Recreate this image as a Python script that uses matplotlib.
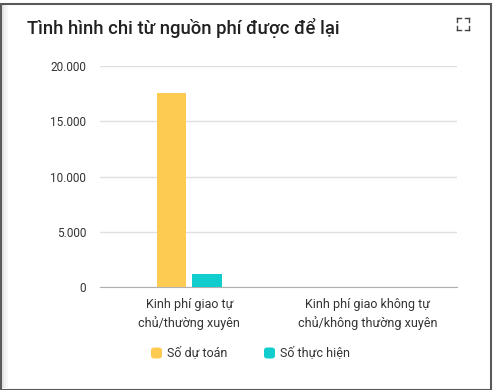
import matplotlib
matplotlib.use("Agg")
import matplotlib.pyplot as plt
from matplotlib.patches import Rectangle, FancyBboxPatch
from matplotlib.lines import Line2D
import numpy as np

plt.rcParams['font.family'] = ['Roboto', 'DejaVu Sans']

title = "Tình hình chi từ nguồn phí được để lại"
categories = ["Kinh phí giao tự\nchủ/thường xuyên", "Kinh phí giao không tự\nchủ/không thường xuyên"]
series_names = ["Số dự toán", "Số thực hiện"]
du_toan = [17600, 40]
thuc_hien = [1180, 40]
yticks = [0, 5000, 10000, 15000, 20000]
ytick_labels = ["0", "5.000", "10.000", "15.000", "20.000"]
colors = ["#FECB52", "#12CDCD"]

W, H = 494, 390
fig = plt.figure(figsize=(W / 100, H / 100), dpi=100)
fig.patch.set_facecolor("white")

# card border
fig.add_artist(Rectangle((0.5 / W, 0.5 / H), (W - 4) / W, (H - 4) / H, transform=fig.transFigure,
                         fill=False, edgecolor="#5a5a5a", linewidth=1.5))
for i, a in enumerate([0.10, 0.06, 0.03]):
    fig.add_artist(Rectangle(((2 + i * 2) / W, 2 / H), 2 / W, (H - 6) / H, transform=fig.transFigure,
                             facecolor="black", alpha=a, edgecolor="none"))

ax = fig.add_axes([100 / W, 1 - 287 / H, 357 / W, (287 - 66) / H])
x = np.arange(len(categories))
bw = 0.165
ax.bar(x - bw / 2 - 0.017, du_toan, width=bw, color=colors[0], zorder=3)
ax.bar(x + bw / 2 + 0.017, thuc_hien, width=bw, color=colors[1], zorder=3)
ax.set_xlim(-0.5, 1.5)
ax.set_ylim(0, 20000)
ax.set_yticks(yticks)
ax.set_yticklabels(ytick_labels)
ax.set_xticks(x)
ax.set_xticklabels(categories, linespacing=1.45)
ax.grid(axis="y", color="#e0e0e0", linewidth=1, zorder=0)
for s in ["top", "right", "left"]:
    ax.spines[s].set_visible(False)
ax.spines["bottom"].set_color("#b0b0b0")
ax.spines["bottom"].set_zorder(2)
ax.tick_params(axis="y", length=0, pad=10, labelsize=8.5, labelcolor="#333333")
ax.tick_params(axis="x", length=0, pad=8, labelsize=9, labelcolor="#333333")

fig.text(27 / W, 1 - 28 / H, title, fontsize=13.3, fontweight="medium", color="#212121", va="center", ha="left")

# expand icon
ix, iy, s, l = 457, 18, 12, 4
for (cx, cy, dx, dy) in [(ix, iy, 1, 1), (ix + s, iy, -1, 1), (ix, iy + s, 1, -1), (ix + s, iy + s, -1, -1)]:
    fig.add_artist(Line2D([cx / W, (cx + dx * l) / W], [1 - cy / H, 1 - cy / H], transform=fig.transFigure,
                          color="#444444", linewidth=1.0))
    fig.add_artist(Line2D([cx / W, cx / W], [1 - cy / H, 1 - (cy + dy * l) / H], transform=fig.transFigure,
                          color="#444444", linewidth=1.0))

# legend
leg_items = [(151, series_names[0], colors[0]), (264, series_names[1], colors[1])]
for lx, name, c in leg_items:
    fig.add_artist(FancyBboxPatch(((lx) / W, 1 - 358.5 / H), 11 / W, 11 / H, transform=fig.transFigure,
                                  boxstyle="round,pad=0,rounding_size=0.007", facecolor=c, edgecolor="none"))
    fig.text((lx + 16) / W, 1 - 353 / H, name, fontsize=9, color="#333333", va="center", ha="left")

fig.savefig("out.png", dpi=100, facecolor="white")
